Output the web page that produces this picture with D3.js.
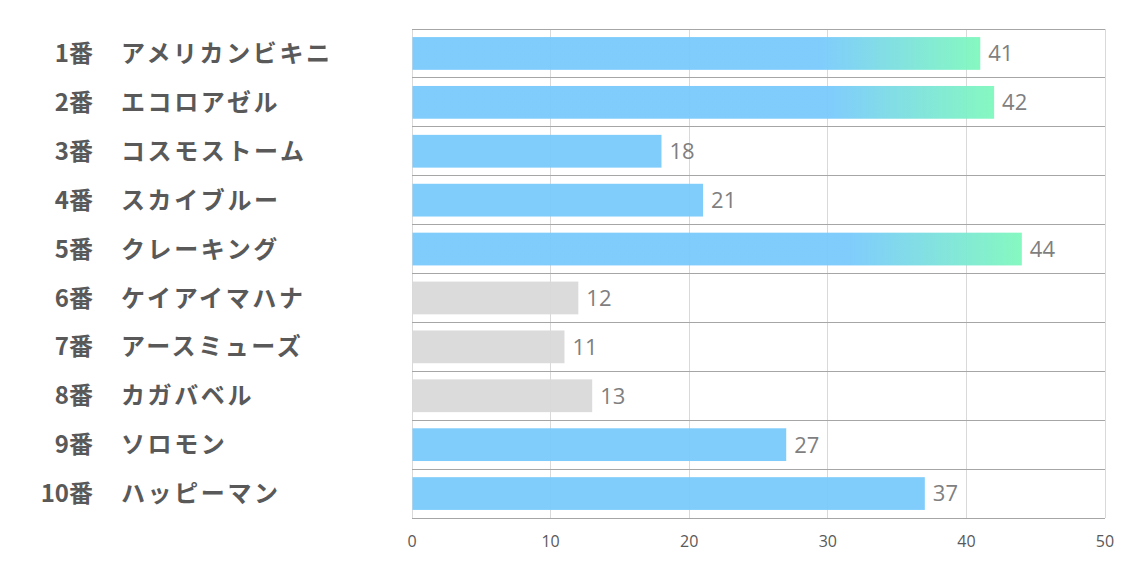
<!DOCTYPE html>
<html><head><meta charset="utf-8">
<script src="https://cdn.jsdelivr.net/npm/d3@7"></script>
<style>body{margin:0;background:#fff;}svg{display:block;}</style>
</head><body>
<svg id="c" width="1134" height="567"></svg>
<script>
const numbers = ["1番","2番","3番","4番","5番","6番","7番","8番","9番","10番"];
const names = ["アメリカンビキニ","エコロアゼル","コスモストーム","スカイブルー","クレーキング","ケイアイマハナ","アースミューズ","カガバベル","ソロモン","ハッピーマン"];
const values = [41,42,18,21,44,12,11,13,27,37];
const styles = ["grad","grad","blue","blue","grad","gray","gray","gray","blue","blue"];
const ticks = [0,10,20,30,40,50];

const svg = d3.select("#c");
const L = 412, R = 1105, T = 29, B = 518;
const x = d3.scaleLinear().domain([0,50]).range([L,R]);
const y = d3.scaleBand().domain(d3.range(values.length)).range([T,B]).paddingInner(0.33).paddingOuter(0.165);
const rowH = (B-T)/values.length;

const defs = svg.append("defs");
const g = defs.append("linearGradient").attr("id","gr").attr("x1","0").attr("x2","1").attr("y1","0").attr("y2","0");
g.append("stop").attr("offset","0.72").attr("stop-color","#79cafc");
g.append("stop").attr("offset","1").attr("stop-color","#7ff8bd");

svg.append("g").selectAll("line").data(ticks).join("line")
  .attr("x1",d=>x(d)).attr("x2",d=>x(d)).attr("y1",T).attr("y2",B)
  .attr("stroke","#d9d9d9").attr("stroke-width",1).attr("shape-rendering","crispEdges");
svg.append("g").selectAll("line").data(d3.range(values.length+1)).join("line")
  .attr("x1",L).attr("x2",R).attr("y1",i=>T+i*rowH).attr("y2",i=>T+i*rowH)
  .attr("stroke","#a6a6a6").attr("stroke-width",1).attr("shape-rendering","crispEdges");

const colors = {blue:"#79cafc", gray:"#d9d9d9", grad:"url(#gr)"};
svg.append("g").selectAll("rect").data(values).join("rect")
  .attr("x",x(0)+0.5).attr("y",(d,i)=>y(i)).attr("height",y.bandwidth())
  .attr("width",d=>x(d)-x(0)-0.5)
  .attr("fill",(d,i)=>colors[styles[i]]).attr("fill-opacity",0.95);

svg.append("g").selectAll("text").data(values).join("text")
  .attr("x",d=>x(d)+8).attr("y",(d,i)=>y(i)+y.bandwidth()/2)
  .attr("dy","0.36em").attr("fill","#7f7f7f")
  .style("font-family","'Open Sans','Liberation Sans',sans-serif").style("font-size","22px")
  .text(d=>d);

const cat = svg.append("g").style("font-family","'Noto Sans CJK JP','Noto Sans',sans-serif")
  .style("font-weight","bold").style("font-size","24px").attr("fill","#595959");
cat.selectAll("text.n").data(numbers).join("text").attr("class","n")
  .attr("x",93).attr("y",(d,i)=>y(i)+y.bandwidth()/2).attr("dy","0.36em")
  .attr("text-anchor","end").text(d=>d);
cat.selectAll("text.m").data(names).join("text").attr("class","m")
  .attr("x",121).attr("y",(d,i)=>y(i)+y.bandwidth()/2).attr("dy","0.36em")
  .style("letter-spacing","2.6px").text(d=>d);

svg.append("g").selectAll("text").data(ticks).join("text")
  .attr("x",d=>x(d)).attr("y",541).attr("dy","0.36em").attr("text-anchor","middle")
  .attr("fill","#595959").style("font-family","'Open Sans','Liberation Sans',sans-serif").style("font-size","16px")
  .text(d=>d);
</script>
</body></html>
